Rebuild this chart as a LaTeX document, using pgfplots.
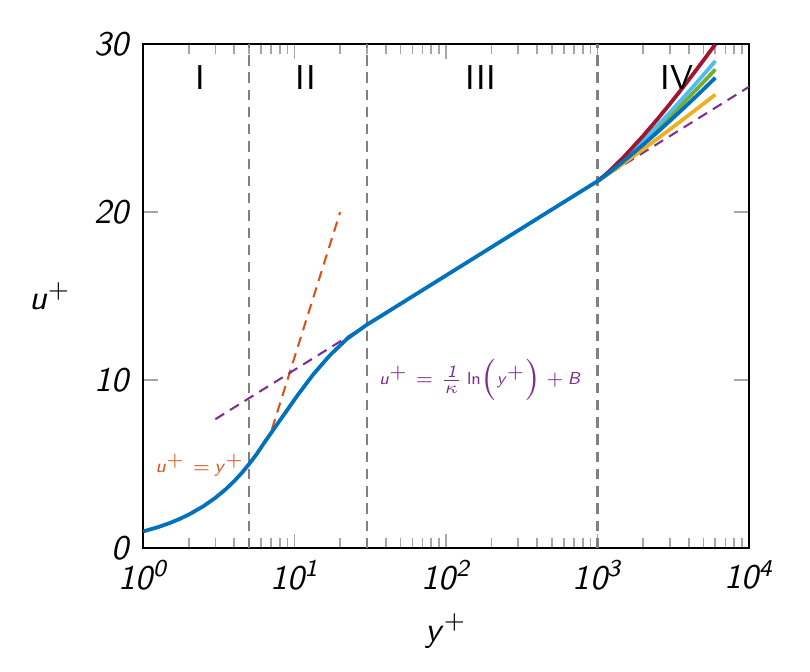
\documentclass[border=0pt]{standalone}
\usepackage{pgfplots}
\pgfplotsset{compat=1.18}
\definecolor{mblue}{HTML}{0072BD}
\definecolor{morange}{HTML}{D95319}
\definecolor{myellow}{HTML}{EDB120}
\definecolor{mpurple}{HTML}{7E2F8E}
\definecolor{mgreen}{HTML}{77AC30}
\definecolor{mcyan}{HTML}{4DBEEE}
\definecolor{mred}{HTML}{A2142F}
\newcommand{\si}[1]{\textsf{\textit{#1}}}
\begin{document}
\begin{tikzpicture}
\begin{axis}[name=ax, scale only axis, width=175.7pt, height=146.2pt,
  xmode=log, xmin=1, xmax=10000, ymin=0, ymax=30,
  xtick={1,10,100,1000,10000},
  xticklabels={\si{10\textsuperscript{0}},\si{10\textsuperscript{1}},\si{10\textsuperscript{2}},\si{10\textsuperscript{3}},\si{10\textsuperscript{4}}},
  ytick={0,10,20,30},
  yticklabels={\si{0},\si{10},\si{20},\si{30}},
  tick align=inside,
  tick style={black!35, line width=0.5pt},
  axis line style={black, line width=0.5pt},
  xlabel={\si{y}$^{+}$}, ylabel={\si{u}$^{+}$},
  ylabel style={rotate=-90},
  every axis plot/.append style={line join=round},
]
% region boundaries
\addplot[black!50, line width=0.6pt, dash pattern=on 3pt off 2pt] coordinates {(5,0) (5,30)};
\addplot[black!50, line width=0.6pt, dash pattern=on 3pt off 2pt] coordinates {(30,0) (30,30)};
\addplot[black!50, line width=0.6pt, dash pattern=on 3pt off 2pt] coordinates {(1000,0) (1000,30)};
% viscous sublayer law
\addplot[morange, line width=0.6pt, dash pattern=on 3pt off 2pt] coordinates {(7.1,7.1) (20,20)};
% log law
\addplot[mpurple, line width=0.6pt, dash pattern=on 3pt off 2pt] coordinates {(3,7.68) (10000,27.46)};
% outer-region profiles
\addplot[myellow, line width=1.1pt] coordinates {(1000,21.848) (1100,22.094) (1200,22.325) (1500,22.934) (2000,23.745) (2500,24.388) (3000,24.921) (3500,25.377) (4000,25.774) (4500,26.128) (5000,26.445) (5500,26.733) (6000,26.998)};
\addplot[mgreen, line width=1.1pt] coordinates {(1000,21.848) (1100,22.119) (1200,22.386) (1500,23.122) (2000,24.142) (2500,24.975) (3000,25.677) (3500,26.286) (4000,26.821) (4500,27.302) (5000,27.736) (5500,28.132) (6000,28.498)};
\addplot[mcyan, line width=1.1pt] coordinates {(1000,21.848) (1100,22.127) (1200,22.406) (1500,23.184) (2000,24.275) (2500,25.170) (3000,25.929) (3500,26.589) (4000,27.170) (4500,27.693) (5000,28.166) (5500,28.599) (6000,28.998)};
\addplot[mred, line width=1.1pt] coordinates {(1000,21.848) (1100,22.143) (1200,22.447) (1500,23.309) (2000,24.539) (2500,25.561) (3000,26.433) (3500,27.195) (4000,27.869) (4500,28.476) (5000,29.027) (5500,29.531) (6000,29.998)};
% main profile
\addplot[mblue, line width=1.1pt] coordinates {(1,1) (1.25,1.25) (1.5,1.5) (1.75,1.75) (2,2) (2.5,2.5) (3,3) (3.5,3.5) (4,4) (4.5,4.5) (5,5) (5.6,5.58) (6.2,6.18) (7.2,7.02) (8.9,8.2) (10.5,9.12) (13.3,10.35) (17.1,11.48) (22.1,12.45) (30,13.3) (40,13.997) (60,14.986) (100,16.232) (200,17.923) (500,20.158) (800,21.304) (1000,21.848) (1100,22.110) (1200,22.366) (1500,23.059) (2000,24.010) (2500,24.779) (3000,25.425) (3500,25.983) (4000,26.472) (4500,26.910) (5000,27.306) (5500,27.666) (6000,27.998)};
% annotations
\node[font=\sffamily] at (axis cs:2.38,28) {I};
\node[font=\sffamily] at (axis cs:11.9,28) {II};
\node[font=\sffamily] at (axis cs:170,28) {III};
\node[font=\sffamily] at (axis cs:3350,28) {IV};
\node[font=\fontsize{5.4}{6.5}\selectfont, text=morange] at (axis cs:2.38,4.94) {\si{u}$^{+}=\,$\si{y}$^{+}$};
\node[font=\fontsize{5}{6}\selectfont, text=mpurple] at (axis cs:168,10) {\si{u}$^{+}=\frac{\mbox{\si{1}}}{\kappa}\,$\textsf{ln}$\left(\mbox{\si{y}}^{+}\right)+\,$\si{B}};
\end{axis}
\path ([shift={(-41.5pt,-35.7pt)}]ax.south west) rectangle ([shift={(17.7pt,12.8pt)}]ax.north east);
\end{tikzpicture}
\end{document}
